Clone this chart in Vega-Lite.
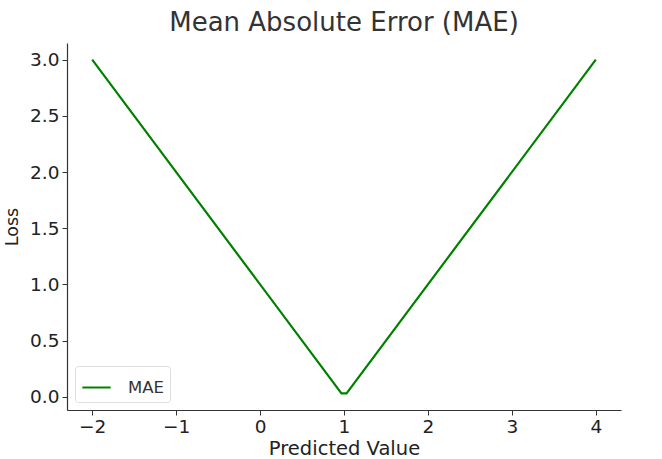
{
  "$schema": "https://vega.github.io/schema/vega-lite/v6.json",
  "width": 554,
  "height": 367,
  "autosize": {"type": "none"},
  "padding": {"left": 67, "top": 43, "right": 41, "bottom": 49},
  "background": "white",
  "title": {"text": "Mean Absolute Error (MAE)", "font": "DejaVu Sans", "fontSize": 26, "fontWeight": "normal", "color": "#333333", "offset": 7},
  "config": {
    "view": {"stroke": null},
    "font": "DejaVu Sans"
  },
  "data": {"values": [
    {"x": -2, "loss": 3, "series": "MAE"},
    {"x": 0.9697, "loss": 0.0303, "series": "MAE"},
    {"x": 1.0303, "loss": 0.0303, "series": "MAE"},
    {"x": 4, "loss": 3, "series": "MAE"}
  ]},
  "mark": {"type": "line", "strokeWidth": 2.2, "clip": true},
  "encoding": {
    "x": {"field": "x", "type": "quantitative", "scale": {"domain": [-2.3, 4.3], "nice": false, "zero": false},
      "axis": {"title": "Predicted Value", "values": [-2, -1, 0, 1, 2, 3, 4], "format": "d", "grid": false,
        "domainColor": "#333333", "domainWidth": 1.2, "tickColor": "#333333", "tickSize": 5, "labelFont": "DejaVu Sans", "labelFontSize": 18.5, "labelColor": "#222222", "labelPadding": 2,
        "titleFont": "DejaVu Sans", "titleFontSize": 19.5, "titleFontWeight": "normal", "titleColor": "#222222", "titlePadding": 4,
        "labelExpr": "replace(datum.label, '-', '\u2212')"}},
    "y": {"field": "loss", "type": "quantitative", "scale": {"domain": [-0.118, 3.1485], "nice": false, "zero": false},
      "axis": {"title": "Loss", "values": [0, 0.5, 1, 1.5, 2, 2.5, 3], "format": ".1f", "grid": false,
        "domainColor": "#333333", "domainWidth": 1.2, "tickColor": "#333333", "tickSize": 5, "labelFont": "DejaVu Sans", "labelFontSize": 18.5, "labelColor": "#222222", "labelPadding": 3,
        "titleFont": "DejaVu Sans", "titleFontSize": 17.5, "titleFontWeight": "normal", "titleColor": "#222222", "titlePadding": 8}},
    "color": {"field": "series", "type": "nominal", "scale": {"range": ["#008000"]},
      "legend": {"title": null, "orient": "bottom-left", "offset": 8, "symbolType": "stroke", "symbolSize": 800, "symbolStrokeWidth": 2,
        "labelFont": "DejaVu Sans", "labelFontSize": 16.5, "labelColor": "#333333", "labelOffset": 16,
        "strokeColor": "#dddddd", "fillColor": "white", "cornerRadius": 3, "padding": 6}}
  }
}
